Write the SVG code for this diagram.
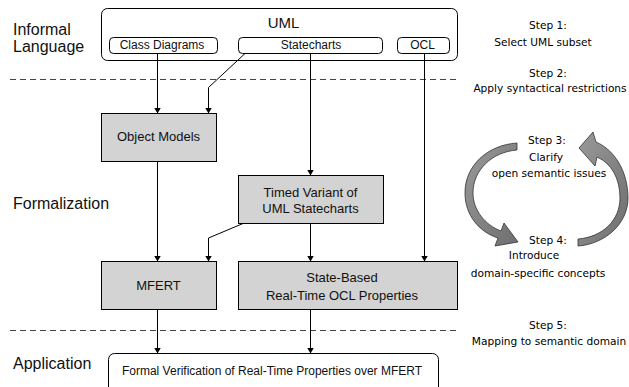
<svg xmlns="http://www.w3.org/2000/svg" width="629" height="387" viewBox="0 0 629 387">
<defs>
<marker id="ah" markerWidth="6" markerHeight="7" refX="6" refY="3.5" orient="auto" markerUnits="userSpaceOnUse">
<path d="M0,0 L6,3.5 L0,7 Z" fill="#000"/>
</marker>
<linearGradient id="ag" x1="0" y1="0" x2="1" y2="1">
<stop offset="0" stop-color="#9a9a9a"/>
<stop offset="1" stop-color="#6e6e6e"/>
</linearGradient>
<style>
.lbl{font-family:"Liberation Sans",Arial,sans-serif;fill:#111}
.big{font-size:16px}
.box{fill:#fff;stroke:#000;stroke-width:1}
.gbox{fill:#d3d3d3;stroke:#000;stroke-width:1}
.t12{font-size:12px;text-anchor:middle}
.t13{font-size:13px;text-anchor:middle}
.step{font-family:"DejaVu Sans","Noto Sans",sans-serif;font-size:10.6px;text-anchor:middle;fill:#000}
.dash{stroke:#444;stroke-width:1;stroke-dasharray:6,4;fill:none}
.con{stroke:#000;stroke-width:1;fill:none;marker-end:url(#ah)}
.cyc{fill:url(#ag);stroke:#333;stroke-width:0.8}
</style>
</defs>
<rect width="629" height="387" fill="#fff"/>

<g id="layers">
<text class="lbl big" x="13" y="35">Informal</text>
<text class="lbl big" x="13" y="52">Language</text>
<text class="lbl big" x="13" y="209">Formalization</text>
<text class="lbl big" x="13" y="369">Application</text>
<line class="dash" x1="10" y1="79.5" x2="457" y2="79.5"/>
<line class="dash" x1="10" y1="330.5" x2="457" y2="330.5"/>
</g>

<g id="uml">
<rect class="box" x="101.5" y="8.5" width="356" height="52" rx="6"/>
<text class="lbl" x="283.5" y="28" font-size="15" text-anchor="middle">UML</text>
</g>
<g id="classdiagrams">
<rect class="box" x="109.5" y="37.5" width="108" height="16" rx="4"/>
<text class="lbl t12" x="162" y="49">Class Diagrams</text>
</g>
<g id="statecharts">
<rect class="box" x="238.5" y="37.5" width="144" height="16" rx="4"/>
<text class="lbl t12" x="311" y="49">Statecharts</text>
</g>
<g id="ocl">
<rect class="box" x="397.5" y="37.5" width="52" height="16" rx="4"/>
<text class="lbl t12" x="422.5" y="49">OCL</text>
</g>

<g id="objectmodels">
<rect class="gbox" x="101.5" y="113.5" width="115" height="48"/>
<text class="lbl t13" x="158.5" y="141">Object Models</text>
</g>
<g id="timedvariant">
<rect class="gbox" x="238.5" y="175.5" width="145" height="48"/>
<text class="lbl t13" x="310.5" y="197">Timed Variant of</text>
<text class="lbl t13" x="310.5" y="213">UML Statecharts</text>
</g>
<g id="mfert">
<rect class="gbox" x="101.5" y="261.5" width="115" height="48"/>
<text class="lbl t13" x="158.5" y="290">MFERT</text>
</g>
<g id="statebased">
<rect class="gbox" x="238.5" y="261.5" width="219" height="48"/>
<text class="lbl t13" x="342" y="282">State-Based</text>
<text class="lbl t13" x="342" y="300">Real-Time OCL Properties</text>
</g>
<g id="formalverification">
<rect class="box" x="108.5" y="353.5" width="330" height="44" rx="6"/>
<text class="lbl t12" x="272" y="375">Formal Verification of Real-Time Properties over MFERT</text>
</g>

<g id="connectors">
<path class="con" d="M157.5,53.5 V113.5"/>
<path class="con" d="M245,53.5 L208.5,87.5 V113.5"/>
<path class="con" d="M310.5,53.5 V175.5"/>
<path class="con" d="M424.5,53.5 V261.5"/>
<path class="con" d="M157.5,161.5 V261.5"/>
<path class="con" d="M243,223.5 L208.5,238 V261.5"/>
<path class="con" d="M310.5,223.5 V261.5"/>
<path class="con" d="M157.5,309.5 V353.5"/>
<path class="con" d="M310.5,309.5 V353.5"/>
</g>

<g id="steps">
<text class="step" x="548" y="29">Step 1:</text>
<text class="step" x="543" y="46">Select UML subset</text>
<text class="step" x="548" y="77">Step 2:</text>
<text class="step" x="550" y="92">Apply syntactical restrictions</text>
<text class="step" x="547" y="144">Step 3:</text>
<text class="step" x="546" y="161">Clarify</text>
<text class="step" x="549" y="177">open semantic issues</text>
<text class="step" x="548" y="244">Step 4:</text>
<text class="step" x="534" y="259">Introduce</text>
<text class="step" x="538" y="277">domain-specific concepts</text>
<text class="step" x="548" y="329">Step 5:</text>
<text class="step" x="549" y="345">Mapping to semantic domain</text>
</g>

<g id="cycle">
<path class="cyc" d="M517,143 C488,145 465,165 465,193 C465,215 479,232 498,238 L495,246 L518,242 L504,223 L501,231 C485,225 473,210 473,193 C473,170 492,152 517,150 Z"/>
<path class="cyc" d="M596,142 C615,150 628,172 628,198 C628,224 605,244 578,246 L578,239 C603,237 620,220 620,198 C620,178 611,163 597,157 L595,166 L579,148 L593,132 Z"/>
</g>
</svg>
